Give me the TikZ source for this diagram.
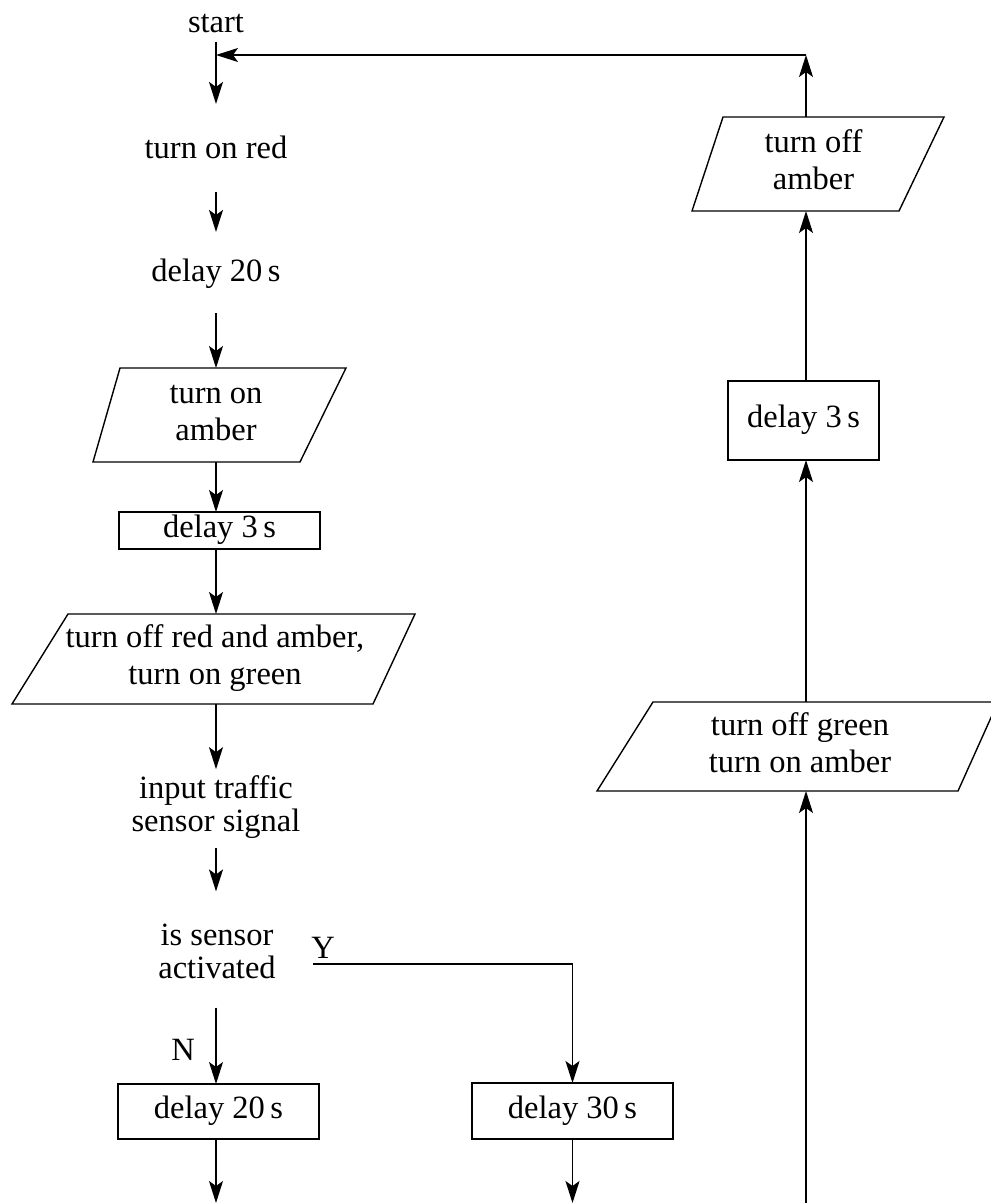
\documentclass[tikz,border=0pt]{standalone}
\usepackage{fontspec}
\setmainfont{Liberation Serif}
\usetikzlibrary{arrows.meta}
\begin{document}
\begin{tikzpicture}[x=1pt,y=-1pt,
  line width=1.4pt,
  txt/.style={inner sep=0pt, outer sep=0pt, align=center, font=\fontsize{32.5}{32}\selectfont},
  boxtxt/.style={inner sep=0pt, outer sep=0pt, align=center, font=\fontsize{32.5}{37}\selectfont},
  procbox/.style={boxtxt, draw, line width=1.4pt},
  parabox/.style={line width=1.4pt, line join=miter},
  arr/.style={-{Stealth[length=22pt,width=14pt,inset=5pt]}, line width=1.4pt}]
\useasboundingbox (0,0) rectangle (991,1203);
\path[clip] (0,0) rectangle (991,1203);

\coordinate (lc) at (216,0);
\coordinate (rc) at (806,0);
\coordinate (ys) at (313,964);
\coordinate (bot) at (0,1203);
\coordinate (top) at (806,55);

% left column
\node[txt] (start) at (216,25.6) {\strut start};
\node[txt] (red) at (216,151.6) {\strut turn on red};
\node[txt] (d20a) at (216,274.6) {\strut delay 20\,s};
\node[boxtxt, minimum height=94pt] (A) at (216,415) {\strut turn on\\\strut amber};
\draw[parabox] (120,368) -- (346,368) -- (300,462) -- (93,462) -- cycle;
\node[procbox, minimum width=201pt, minimum height=37pt] (E) at (219.5,530.5) {\strut delay 3\,s};
\node[boxtxt, minimum height=90pt] (B) at (215,659) {\strut turn off red and amber,\\\strut turn on green};
\draw[parabox] (68,614) -- (415,614) -- (373,704) -- (12,704) -- cycle;
\node[txt] (inp) at (216,808.6) {\strut input traffic\\\strut sensor signal};
\node[txt] (sens) at (217,955.6) {\strut is sensor\\\strut activated};
\node[txt] (ylab) at (323,951.6) {\strut Y};
\node[txt] (nlab) at (183,1053.6) {\strut N};
\node[procbox, minimum width=201pt, minimum height=55pt] (G) at (218.5,1111.5) {\strut delay 20\,s};
\node[procbox, minimum width=201pt, minimum height=56pt] (H) at (572.5,1111) {\strut delay 30\,s};

% right column
\node[boxtxt, minimum height=89pt] (C) at (800,746.5) {\strut turn off green\\\strut turn on amber};
\draw[parabox] (653,702) -- (998,702) -- (958,791) -- (597,791) -- cycle;
\node[procbox, minimum width=151pt, minimum height=79pt] (F) at (803.5,420.5) {\strut delay 3\,s};
\node[boxtxt, minimum height=94pt] (D) at (813.5,164) {\strut turn off\\\strut amber};
\draw[parabox] (723,117) -- (944,117) -- (899,211) -- (692,211) -- cycle;

% connectors
\draw[arr, shorten >=31.6pt] (start.south -| lc) -- (red.north -| lc);
\draw[arr, shorten <=24.4pt, shorten >=26.6pt] (red.south -| lc) -- (d20a.north -| lc);
\draw[arr, shorten <=22.4pt] (d20a.south -| lc) -- (A.north -| lc);
\draw[arr] (A.south -| lc) -- (E.north -| lc);
\draw[arr] (E.south -| lc) -- (B.north -| lc);
\draw[arr, shorten >=6.6pt] (B.south -| lc) -- (inp.north -| lc);
\draw[arr, shorten <=6.4pt, shorten >=31.6pt] (inp.south -| lc) -- (sens.north -| lc);
\draw[arr, shorten <=19.4pt] (sens.south -| lc) -- (G.north -| lc);
\draw[arr] (ys) -| (H.north);
\draw[arr] (G.south -| lc) -- (bot -| lc);
\draw[arr] (H.south) -- (H.south |- bot);
\draw[arr] (bot -| rc) -- (C.south -| rc);
\draw[arr] (C.north -| rc) -- (F.south -| rc);
\draw[arr] (F.north -| rc) -- (D.south -| rc);
\draw[arr] (D.north -| rc) -- (top);
\draw[arr] (top) -- (top -| lc);
\end{tikzpicture}
\end{document}
